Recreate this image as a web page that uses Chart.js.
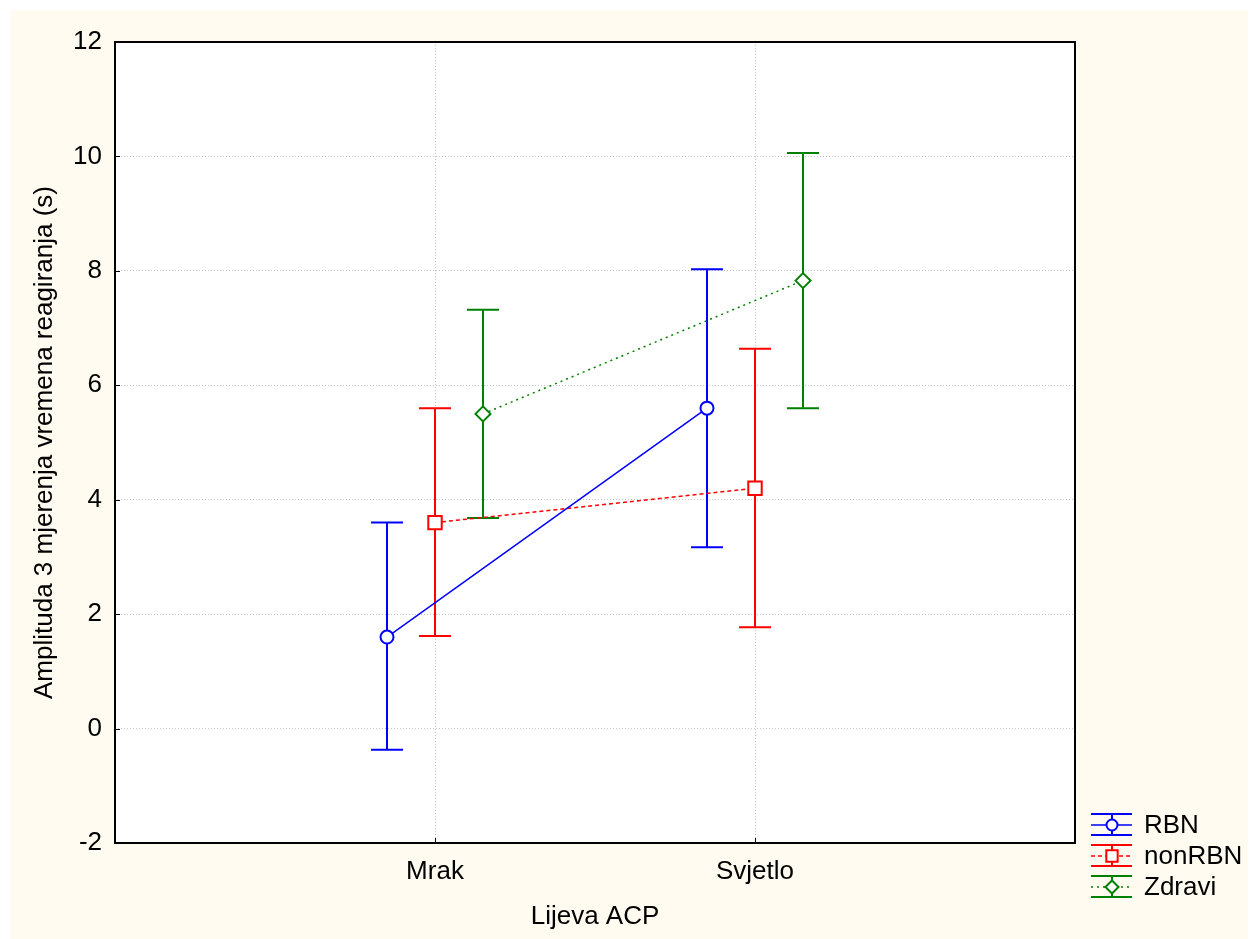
<!DOCTYPE html>
<html>
<head>
<meta charset="utf-8">
<script src="https://cdn.jsdelivr.net/npm/chart.js@4.4.0/dist/chart.umd.min.js"></script>
<style>
  html, body { margin: 0; padding: 0; background: #fff; }
</style>
</head>
<body>
<canvas id="meanPlot" width="1250" height="939"></canvas>
<script>
const categories = ['Mrak', 'Svjetlo'];
const seriesNames = ['RBN', 'nonRBN', 'Zdravi'];

const rbnMean = [1.6, 5.6];
const rbnLow = [-0.37, 3.17];
const rbnHigh = [3.6, 8.03];

const nonRbnMean = [3.6, 4.2];
const nonRbnLow = [1.62, 1.77];
const nonRbnHigh = [5.6, 6.64];

const zdraviMean = [5.5, 7.83];
const zdraviLow = [3.68, 5.6];
const zdraviHigh = [7.32, 10.06];

const yTicks = [-2, 0, 2, 4, 6, 8, 10, 12];

const FONT = "'Liberation Sans', Arial, sans-serif";
const CREAM = '#fffbf0';
const OFFSETS = [-0.15, 0, 0.15];
const CAP = 16;

const SERIES = [
  { name: seriesNames[0], mean: rbnMean, low: rbnLow, high: rbnHigh, color: '#0000ff', dash: [], style: 'circle', radius: 6.5, legendRadius: 5.5 },
  { name: seriesNames[1], mean: nonRbnMean, low: nonRbnLow, high: nonRbnHigh, color: '#ff0000', dash: [4, 3], style: 'rect', radius: 9.5, legendRadius: 8 },
  { name: seriesNames[2], mean: zdraviMean, low: zdraviLow, high: zdraviHigh, color: '#008000', dash: [2, 4], style: 'rectRot', radius: 7.5, legendRadius: 6.5 }
];

const background = {
  id: 'background',
  beforeDraw(chart) {
    const { ctx, width, height, chartArea: a } = chart;
    ctx.save();
    ctx.fillStyle = '#ffffff';
    ctx.fillRect(0, 0, width, height);
    ctx.fillStyle = CREAM;
    ctx.fillRect(10, 10, width - 12, height - 10);
    ctx.fillStyle = '#ffffff';
    ctx.fillRect(a.left, a.top, a.right - a.left, a.bottom - a.top);
    ctx.restore();
  }
};

const errorBars = {
  id: 'errorBars',
  beforeDatasetsDraw(chart) {
    const { ctx } = chart;
    const xs = chart.scales.x, ys = chart.scales.y;
    SERIES.forEach((s, si) => {
      ctx.save();
      ctx.strokeStyle = s.color;
      ctx.lineWidth = 2;
      s.mean.forEach((m, i) => {
        const px = xs.getPixelForValue(i + 1 + OFFSETS[si]);
        const top = ys.getPixelForValue(s.high[i]);
        const bot = ys.getPixelForValue(s.low[i]);
        ctx.beginPath();
        ctx.moveTo(px, top); ctx.lineTo(px, bot);
        ctx.moveTo(px - CAP, top); ctx.lineTo(px + CAP, top);
        ctx.moveTo(px - CAP, bot); ctx.lineTo(px + CAP, bot);
        ctx.stroke();
      });
      ctx.restore();
    });
  }
};

const frameAndLegend = {
  id: 'frameAndLegend',
  afterDraw(chart) {
    const { ctx, chartArea: a } = chart;
    const xs = chart.scales.x, ys = chart.scales.y;
    ctx.save();
    // inward tick marks
    ctx.strokeStyle = '#000';
    ctx.lineWidth = 1;
    ctx.beginPath();
    yTicks.forEach(v => {
      const py = Math.round(ys.getPixelForValue(v)) + 0.5;
      ctx.moveTo(a.left, py); ctx.lineTo(a.left + 5, py);
    });
    categories.forEach((c, i) => {
      const px = Math.round(xs.getPixelForValue(i + 1)) + 0.5;
      ctx.moveTo(px, a.bottom); ctx.lineTo(px, a.bottom - 5);
    });
    ctx.stroke();
    // frame
    ctx.lineWidth = 2;
    ctx.strokeRect(a.left, a.top, a.right - a.left, a.bottom - a.top);

    // legend
    const lx0 = 1091, lx1 = 1132, lxm = 1112, tx = 1144;
    SERIES.forEach((s, i) => {
      const cy = 825 + i * 31;
      ctx.strokeStyle = s.color;
      ctx.lineWidth = 2;
      ctx.setLineDash([]);
      ctx.beginPath();
      ctx.moveTo(lx0, cy - 11); ctx.lineTo(lx1, cy - 11);
      ctx.moveTo(lx0, cy + 10); ctx.lineTo(lx1, cy + 10);
      ctx.moveTo(lxm, cy - 11); ctx.lineTo(lxm, cy + 10);
      ctx.stroke();
      ctx.lineWidth = 1.5;
      ctx.setLineDash(s.dash);
      ctx.beginPath();
      ctx.moveTo(lx0, cy); ctx.lineTo(lx1, cy);
      ctx.stroke();
      ctx.setLineDash([]);
      ctx.fillStyle = '#ffffff';
      ctx.lineWidth = 2;
      Chart.helpers.drawPoint(ctx, { pointStyle: s.style, radius: s.legendRadius, rotation: 0, borderWidth: 2 }, lxm, cy);
      ctx.fillStyle = '#000';
      ctx.font = '26px ' + FONT;
      ctx.textAlign = 'left';
      ctx.textBaseline = 'middle';
      ctx.fillText(s.name, tx, cy + 1);
    });
    ctx.restore();
  }
};

new Chart(document.getElementById('meanPlot'), {
  type: 'line',
  data: {
    datasets: SERIES.map((s, si) => ({
      label: s.name,
      data: s.mean.map((m, i) => ({ x: i + 1 + OFFSETS[si], y: m })),
      borderColor: s.color,
      borderWidth: 1.5,
      borderDash: s.dash,
      pointStyle: s.style,
      pointRadius: s.radius,
      pointBorderWidth: 2,
      pointBackgroundColor: '#ffffff',
      pointBorderColor: s.color,
      tension: 0,
      fill: false
    }))
  },
  options: {
    responsive: false,
    animation: false,
    layout: { padding: { top: 42, right: 175, left: 0, bottom: 0 } },
    plugins: {
      legend: { display: false },
      tooltip: { enabled: false }
    },
    scales: {
      x: {
        type: 'linear',
        min: 0,
        max: 3,
        afterBuildTicks: scale => { scale.ticks = categories.map((c, i) => ({ value: i + 1 })); },
        afterFit: scale => { scale.height = 96; },
        ticks: {
          callback: v => categories[v - 1],
          color: '#000',
          font: { family: FONT, size: 26 },
          padding: 13,
          maxRotation: 0
        },
        grid: { color: '#c4c4c4', lineWidth: 1, drawTicks: false },
        border: { display: false, dash: [1, 2] },
        title: { display: true, text: 'Lijeva ACP', color: '#000', font: { family: FONT, size: 26 }, padding: { top: 0, bottom: 7 } }
      },
      y: {
        min: -2,
        max: 12,
        afterBuildTicks: scale => { scale.ticks = yTicks.map(v => ({ value: v })); },
        afterFit: scale => { scale.width = 115; },
        ticks: {
          color: '#000',
          font: { family: FONT, size: 26 },
          padding: 13
        },
        grid: { color: '#c4c4c4', lineWidth: 1, drawTicks: false },
        border: { display: false, dash: [1, 2] },
        title: { display: true, text: 'Amplituda 3 mjerenja vremena reagiranja (s)', color: '#000', font: { family: FONT, size: 26 }, padding: { top: 29, bottom: 0 } }
      }
    }
  },
  plugins: [background, errorBars, frameAndLegend]
});
</script>
</body>
</html>
